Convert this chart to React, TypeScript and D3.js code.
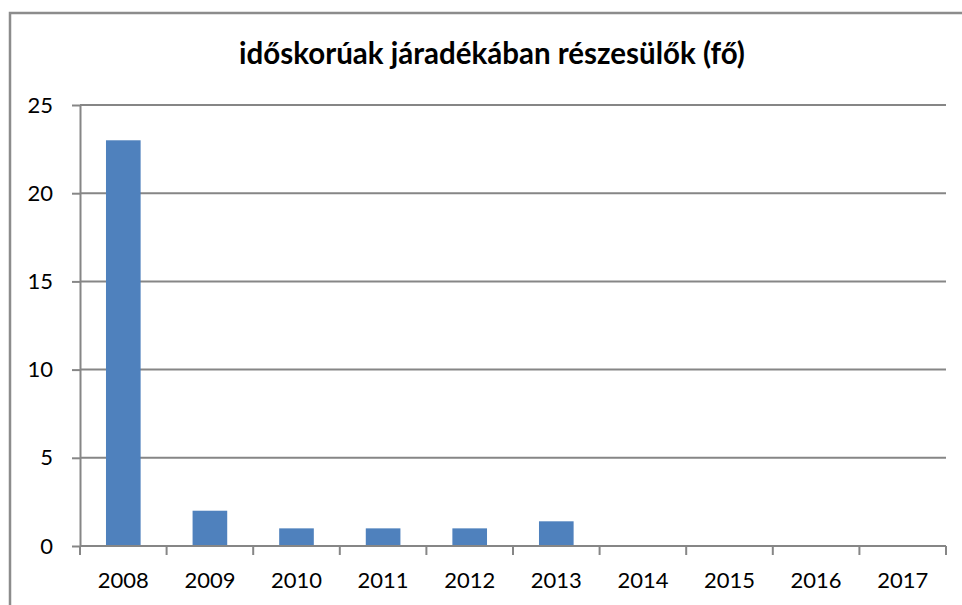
import React, { useEffect, useRef } from 'react';
import * as d3 from 'd3';

const title = 'időskorúak járadékában részesülők (fő)';
const years = ['2008', '2009', '2010', '2011', '2012', '2013', '2014', '2015', '2016', '2017'];
const values = [23, 2, 1, 1, 1, 1.4, 0, 0, 0, 0];
const yTicks = [0, 5, 10, 15, 20, 25];

const width = 962;
const height = 605;

const App: React.FC = () => {
    const svgRef = useRef<SVGSVGElement>(null);

    useEffect(() => {
        if (!svgRef.current) return;
        const svg = d3.select(svgRef.current);
        svg.selectAll('*').remove();

        const margin = { top: 105, right: 16, bottom: 59, left: 80 };
        const innerWidth = width - margin.left - margin.right;
        const innerHeight = height - margin.top - margin.bottom;
        const axisColor = '#868686';
        const font = 'Lato, "Open Sans", sans-serif';

        // chart frame (right and bottom edges sit outside the picture)
        svg.append('rect')
            .attr('x', 10)
            .attr('y', 13)
            .attr('width', width + 20)
            .attr('height', height + 20)
            .attr('fill', 'white')
            .attr('stroke', '#8c8c8c')
            .attr('stroke-width', 2.5);

        svg.append('text')
            .attr('x', 492)
            .attr('y', 64)
            .attr('text-anchor', 'middle')
            .style('font-family', font)
            .style('font-weight', 'bold')
            .style('font-size', '29.5px')
            .style('fill', '#000')
            .text(title);

        const x = d3.scaleBand<string>()
            .domain(years)
            .range([0, innerWidth])
            .paddingInner(0.6)
            .paddingOuter(0.3);

        const y = d3.scaleLinear()
            .domain([0, 25])
            .range([innerHeight, 0]);

        const g = svg.append('g')
            .attr('transform', `translate(${margin.left},${margin.top})`);

        // gridlines
        g.append('g')
            .selectAll('line')
            .data(yTicks.filter(d => d > 0))
            .join('line')
            .attr('x1', 0)
            .attr('x2', innerWidth)
            .attr('y1', d => y(d))
            .attr('y2', d => y(d))
            .attr('stroke', axisColor)
            .attr('stroke-width', 2);

        // bars
        g.append('g')
            .selectAll('rect')
            .data(values)
            .join('rect')
            .attr('x', (d, i) => x(years[i])!)
            .attr('y', d => y(d))
            .attr('width', x.bandwidth())
            .attr('height', d => innerHeight - y(d))
            .attr('fill', '#4F81BD');

        // y axis
        const yAxis = g.append('g')
            .call(d3.axisLeft(y).tickValues(yTicks).tickSize(8).tickPadding(19).tickSizeOuter(0));
        yAxis.select('.domain').attr('stroke', axisColor).attr('stroke-width', 2);
        yAxis.selectAll('.tick line').attr('stroke', axisColor).attr('stroke-width', 2);
        yAxis.selectAll('.tick text')
            .style('font-family', font)
            .style('font-size', '22px')
            .attr('fill', '#000');

        // x axis, ticks at category boundaries
        const step = x.step();
        const boundaries = d3.range(years.length + 1).map(i => i * step);
        const xAxis = g.append('g')
            .attr('transform', `translate(0,${innerHeight})`);
        xAxis.append('line')
            .attr('x1', 0)
            .attr('x2', innerWidth)
            .attr('stroke', axisColor)
            .attr('stroke-width', 2);
        xAxis.selectAll('line.tick')
            .data(boundaries)
            .join('line')
            .attr('class', 'tick')
            .attr('x1', d => d)
            .attr('x2', d => d)
            .attr('y1', 0)
            .attr('y2', 9)
            .attr('stroke', axisColor)
            .attr('stroke-width', 2);
        xAxis.selectAll('text')
            .data(years)
            .join('text')
            .attr('x', d => x(d)! + x.bandwidth() / 2)
            .attr('y', 42)
            .attr('text-anchor', 'middle')
            .style('font-family', font)
            .style('font-size', '22px')
            .style('fill', '#000')
            .text(d => d);
    }, []);

    return (
        <svg
            ref={svgRef}
            width={width}
            height={height}
            style={{ position: 'absolute', left: 0, top: 0, background: 'white' }}
        />
    );
};

export default App;
